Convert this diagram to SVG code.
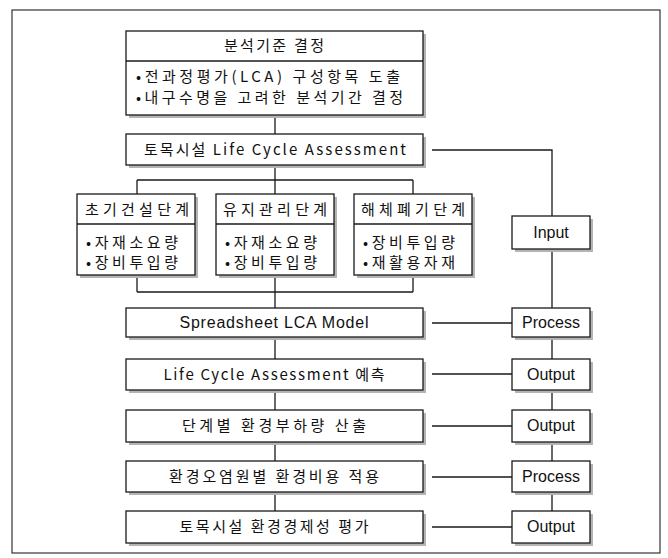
<svg xmlns="http://www.w3.org/2000/svg" width="668" height="558" viewBox="0 0 668 558">
<defs>
<style>
.bx{fill:#fff;stroke:#1a1a1a;stroke-width:1.3}
.sh{fill:#b4b4b4}
.ln{fill:none;stroke:#1a1a1a;stroke-width:1.3}
.kr{font-family:"Noto Sans CJK KR","Liberation Sans",sans-serif;font-size:15px;fill:#111}
.en{font-family:"Liberation Sans","Noto Sans CJK KR",sans-serif;font-size:16px;fill:#111}
.c{text-anchor:middle}
</style>
</defs>
<rect x="12" y="10" width="648" height="543" fill="none" stroke="#333" stroke-width="1.2"/>
<g id="connectors" class="ln">
<path d="M275 115V134M275 165V180M137 180H413M137 180V194M275 180V194M413 180V194"/>
<path d="M137 275V292M275 275V292M413 275V292M137 292H413M275 292V308"/>
<path d="M275 337V359M275 390V410M275 442V461M275 492V511"/>
<path d="M432 150H552V216M552 249V308M552 337V359M552 390V410M552 442V461M552 492V511"/>
<path d="M432 323H512M432 374H512M432 426H512M432 477H512M432 527H512"/>
</g>
<g id="n-criteria">
<rect class="sh" x="129" y="34" width="297" height="84"/>
<rect class="bx" x="126" y="31" width="297" height="84"/>
<line class="ln" x1="126" y1="61" x2="423" y2="61"/>
<text class="kr c" x="274" y="51" textLength="100">분석기준 결정</text>
<text class="kr" x="136" y="82" textLength="264">•전과정평가(LCA) 구성항목 도출</text>
<text class="kr" x="136" y="103" textLength="267">•내구수명을 고려한 분석기간 결정</text>
</g>
<g id="n-lca">
<rect class="sh" x="129" y="137" width="297" height="31"/>
<rect class="bx" x="126" y="134" width="297" height="31"/>
<text class="kr c" x="275" y="155" textLength="262">토목시설 Life Cycle Assessment</text>
</g>
<g id="n-phase1">
<rect class="sh" x="80" y="197" width="118" height="81"/>
<rect class="bx" x="77" y="194" width="118" height="81"/>
<line class="ln" x1="77" y1="224" x2="195" y2="224"/>
<text class="kr c" x="137" y="215" textLength="104">초기건설단계</text>
<text class="kr" x="86" y="248" textLength="92">•자재소요량</text>
<text class="kr" x="86" y="268" textLength="92">•장비투입량</text>
</g>
<g id="n-phase2">
<rect class="sh" x="219" y="197" width="118" height="81"/>
<rect class="bx" x="216" y="194" width="118" height="81"/>
<line class="ln" x1="216" y1="224" x2="334" y2="224"/>
<text class="kr c" x="275" y="215" textLength="104">유지관리단계</text>
<text class="kr" x="225" y="248" textLength="92">•자재소요량</text>
<text class="kr" x="225" y="268" textLength="92">•장비투입량</text>
</g>
<g id="n-phase3">
<rect class="sh" x="357" y="197" width="118" height="81"/>
<rect class="bx" x="354" y="194" width="118" height="81"/>
<line class="ln" x1="354" y1="224" x2="472" y2="224"/>
<text class="kr c" x="413" y="215" textLength="104">해체폐기단계</text>
<text class="kr" x="363" y="248" textLength="92">•장비투입량</text>
<text class="kr" x="363" y="268" textLength="92">•재활용자재</text>
</g>
<g id="n-model">
<rect class="sh" x="129" y="311" width="297" height="29"/>
<rect class="bx" x="126" y="308" width="297" height="29"/>
<text class="en c" x="274" y="328" textLength="189">Spreadsheet LCA Model</text>
</g>
<g id="n-predict">
<rect class="sh" x="129" y="362" width="297" height="31"/>
<rect class="bx" x="126" y="359" width="297" height="31"/>
<text class="kr c" x="274" y="380" textLength="221">Life Cycle Assessment 예측</text>
</g>
<g id="n-load">
<rect class="sh" x="129" y="413" width="297" height="32"/>
<rect class="bx" x="126" y="410" width="297" height="32"/>
<text class="kr c" x="274" y="431" textLength="184">단계별 환경부하량 산출</text>
</g>
<g id="n-cost">
<rect class="sh" x="129" y="464" width="297" height="31"/>
<rect class="bx" x="126" y="461" width="297" height="31"/>
<text class="kr c" x="274" y="482" textLength="210">환경오염원별 환경비용 적용</text>
</g>
<g id="n-eval">
<rect class="sh" x="129" y="514" width="297" height="32"/>
<rect class="bx" x="126" y="511" width="297" height="32"/>
<text class="kr c" x="274" y="532" textLength="189">토목시설 환경경제성 평가</text>
</g>
<g id="n-input">
<rect class="sh" x="515" y="219" width="78" height="33"/>
<rect class="bx" x="512" y="216" width="78" height="33"/>
<text class="en c" x="551" y="238">Input</text>
</g>
<g id="n-process1">
<rect class="sh" x="515" y="311" width="78" height="29"/>
<rect class="bx" x="512" y="308" width="78" height="29"/>
<text class="en c" x="551" y="328">Process</text>
</g>
<g id="n-output1">
<rect class="sh" x="515" y="362" width="78" height="31"/>
<rect class="bx" x="512" y="359" width="78" height="31"/>
<text class="en c" x="551" y="380">Output</text>
</g>
<g id="n-output2">
<rect class="sh" x="515" y="413" width="78" height="32"/>
<rect class="bx" x="512" y="410" width="78" height="32"/>
<text class="en c" x="551" y="431">Output</text>
</g>
<g id="n-process2">
<rect class="sh" x="515" y="464" width="78" height="31"/>
<rect class="bx" x="512" y="461" width="78" height="31"/>
<text class="en c" x="551" y="482">Process</text>
</g>
<g id="n-output3">
<rect class="sh" x="515" y="514" width="78" height="32"/>
<rect class="bx" x="512" y="511" width="78" height="32"/>
<text class="en c" x="551" y="532">Output</text>
</g>
</svg>
